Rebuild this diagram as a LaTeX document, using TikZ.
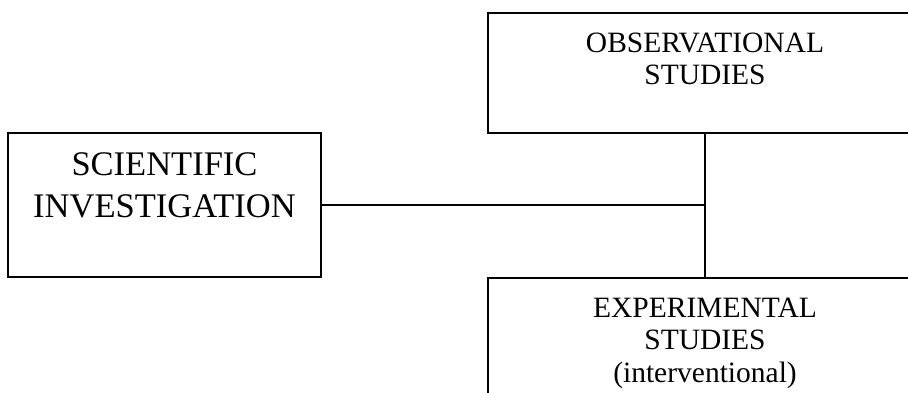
\documentclass[tikz,border=0pt]{standalone}
\usepackage{fontspec}
\setmainfont{Liberation Serif}
\usetikzlibrary{positioning}

\tikzset{
  box/.style={draw, line width=1.2pt, inner sep=0pt},
  bigtext/.style={anchor=north, inner sep=0pt, align=center, font=\fontsize{34.5}{42}\selectfont},
  smalltext/.style={anchor=north, inner sep=0pt, align=center, font=\fontsize{29.5}{32.5}\selectfont}
}

\begin{document}
\begin{tikzpicture}[x=1pt,y=-1pt]
    \useasboundingbox (0,0) rectangle (908,392);
    \clip (0,0) rectangle (908,392);
    % boxes
    \node[box, minimum width=313pt, minimum height=144pt] (sci) at (164.5,205) {};
    \node[box, minimum width=434pt, minimum height=120pt] (obs) at (705,73) {};
    \node[box, minimum width=434pt, minimum height=130pt] (exp) at (705,343) {};
    % texts
    \node[bigtext, below=20pt of sci.north] (scitext) {SCIENTIFIC\\INVESTIGATION};
    \node[smalltext, below=20pt of obs.north] (obstext) {OBSERVATIONAL\\STUDIES};
    \node[smalltext, below=20pt of exp.north] (exptext) {EXPERIMENTAL\\STUDIES\\(interventional)};
    % connectors
    \draw[line width=1.2pt] (sci.east) -- (sci.east -| obs.south);
    \draw[line width=1.2pt] (obs.south) -- (exp.north);
  \end{tikzpicture}
\end{document}
